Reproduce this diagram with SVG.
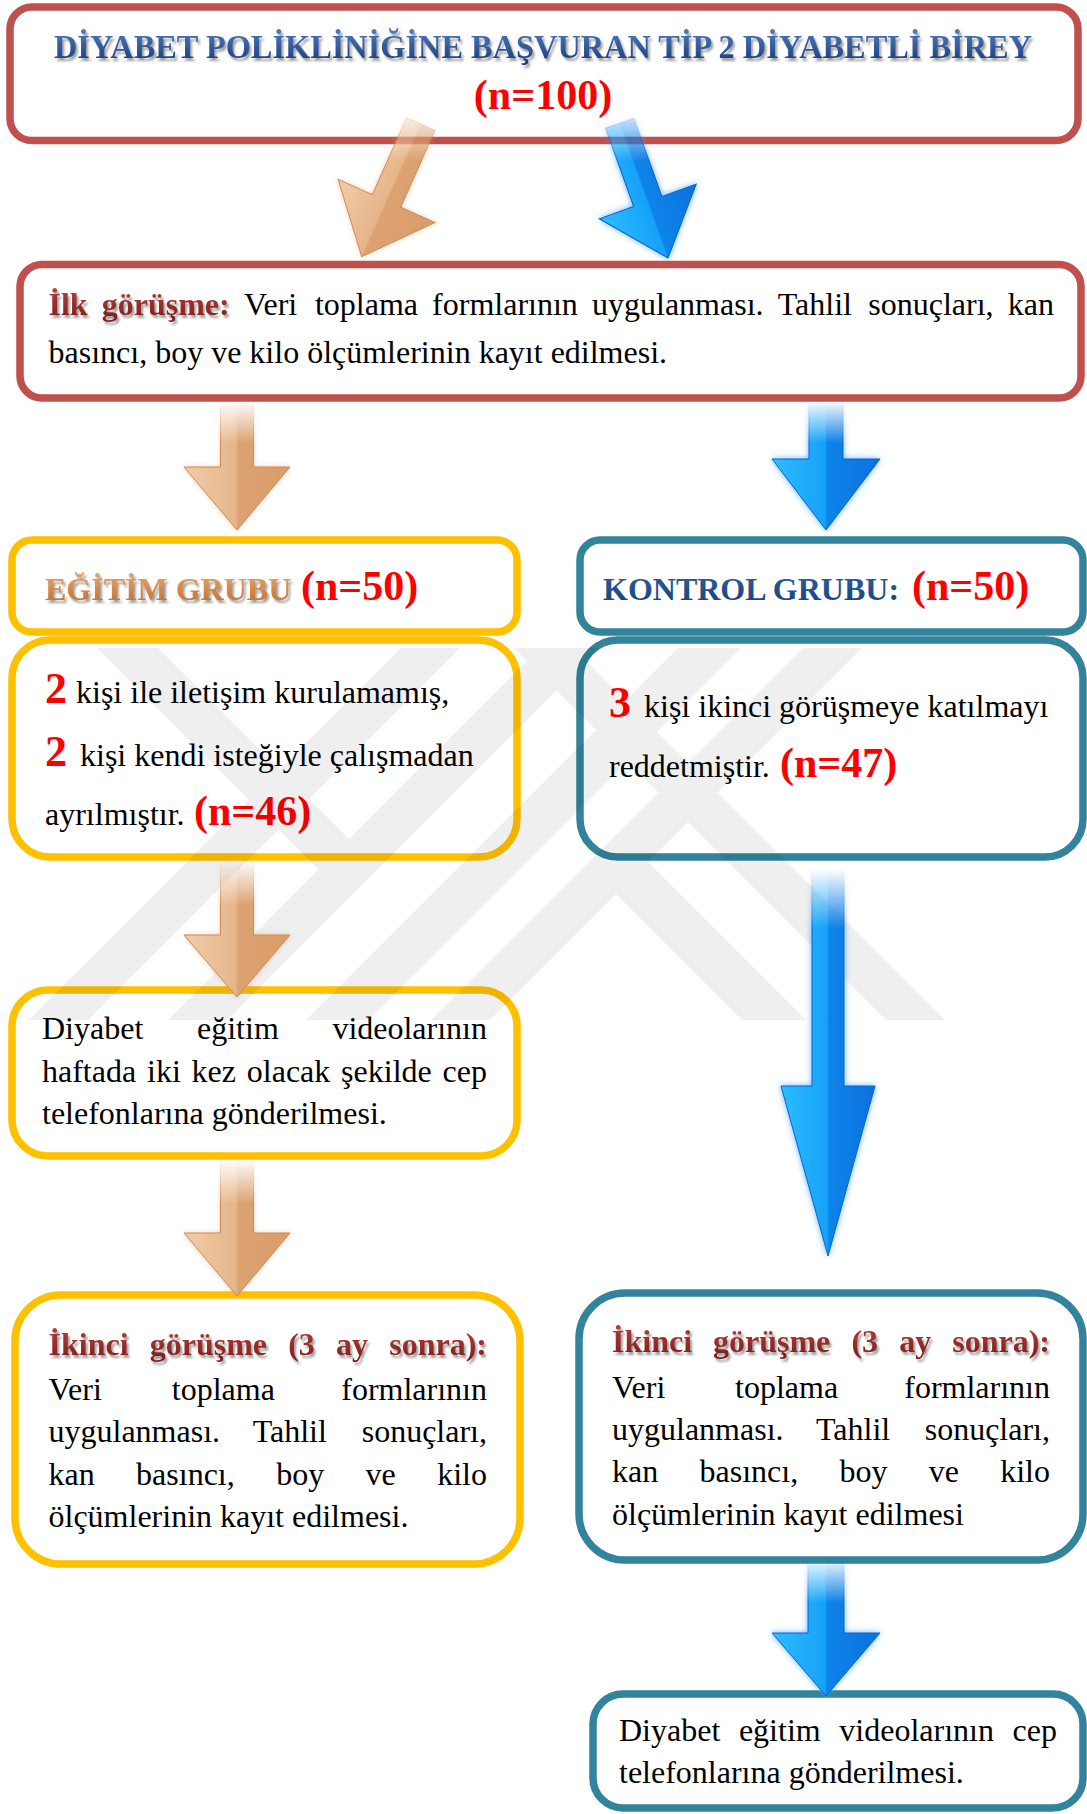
<svg xmlns="http://www.w3.org/2000/svg" width="1087" height="1814" viewBox="0 0 1087 1814">
<defs>
<style>
.box{fill:#fff;stroke-width:7.5}
.red{stroke:#C0504D}
.yel{stroke:#FFC000}
.teal{stroke:#31849B}
text{font-family:'Liberation Serif','Times New Roman',serif}
.t{font-size:32px;fill:#000}
.title{font-size:34px;font-weight:bold;fill:url(#gBlue)}
.nred{font-size:42px;font-weight:bold;fill:#FF0000}
.big{font-size:44px;font-weight:bold;fill:#FF0000}
.dred{font-size:32px;font-weight:bold;fill:url(#gRed)}
.orng{font-size:32px;font-weight:bold;fill:url(#gOrange)}
.kblue{font-size:32px;font-weight:bold;fill:url(#gKBlue)}
.tan{fill:url(#gTan);stroke:#D08A55;stroke-width:1}
.blue{fill:url(#gBlueArrow);stroke:#0A5FD0;stroke-width:1}
</style>
<linearGradient id="gBlue" x1="0" y1="0" x2="0" y2="1">
<stop offset="0" stop-color="#4F7EC2"/><stop offset="1" stop-color="#173A75"/>
</linearGradient>
<linearGradient id="gKBlue" x1="0" y1="0" x2="0" y2="1">
<stop offset="0" stop-color="#30609F"/><stop offset="1" stop-color="#173F7A"/>
</linearGradient>
<linearGradient id="gRed" x1="0" y1="0" x2="0" y2="1">
<stop offset="0" stop-color="#B8403A"/><stop offset="1" stop-color="#7C1C19"/>
</linearGradient>
<linearGradient id="gOrange" x1="0" y1="0" x2="0" y2="1">
<stop offset="0" stop-color="#E8A868"/><stop offset="1" stop-color="#BD6C2C"/>
</linearGradient>
<linearGradient id="gTan" x1="0" y1="0" x2="1" y2="0">
<stop offset="0" stop-color="#F1CDA9"/><stop offset="0.49" stop-color="#E6B58A"/><stop offset="0.51" stop-color="#DCA272"/><stop offset="1" stop-color="#D99D68"/>
</linearGradient>
<linearGradient id="gBlueArrow" x1="0" y1="0" x2="1" y2="0">
<stop offset="0" stop-color="#2FBCFF"/><stop offset="0.49" stop-color="#16A2F8"/><stop offset="0.51" stop-color="#0B84EA"/><stop offset="1" stop-color="#0A70DC"/>
</linearGradient>
<linearGradient id="fadeG" x1="0" y1="0" x2="0" y2="1">
<stop offset="0" stop-color="#000"/><stop offset="0.3" stop-color="#fff"/><stop offset="1" stop-color="#fff"/>
</linearGradient>
<linearGradient id="fadeL" x1="0" y1="0" x2="0" y2="1">
<stop offset="0" stop-color="#000"/><stop offset="0.14" stop-color="#fff"/><stop offset="1" stop-color="#fff"/>
</linearGradient>
<mask id="fade" maskContentUnits="objectBoundingBox" x="-0.3" y="-0.1" width="1.6" height="1.2">
<rect x="-0.3" y="0" width="1.6" height="1.1" fill="url(#fadeG)"/>
</mask>
<mask id="fadeLong" maskContentUnits="objectBoundingBox" x="-0.3" y="-0.1" width="1.6" height="1.2">
<rect x="-0.3" y="0" width="1.6" height="1.1" fill="url(#fadeL)"/>
</mask>
<filter id="ts" x="-5%" y="-30%" width="110%" height="170%">
<feGaussianBlur in="SourceAlpha" stdDeviation="1.3"/>
<feOffset dx="1.5" dy="2.5" result="b"/>
<feFlood flood-color="#808080" flood-opacity="0.75"/>
<feComposite in2="b" operator="in"/>
<feMerge><feMergeNode/><feMergeNode in="SourceGraphic"/></feMerge>
</filter>
<filter id="glowB" x="-30%" y="-20%" width="160%" height="140%">
<feGaussianBlur in="SourceAlpha" stdDeviation="3"/>
<feComponentTransfer result="a"><feFuncA type="linear" slope="0.8"/></feComponentTransfer>
<feFlood flood-color="#3FA4FF"/>
<feComposite in2="a" operator="in"/>
<feMerge><feMergeNode/><feMergeNode in="SourceGraphic"/></feMerge>
</filter>
<filter id="glowT" x="-30%" y="-20%" width="160%" height="140%">
<feGaussianBlur in="SourceAlpha" stdDeviation="2.5"/>
<feComponentTransfer result="a"><feFuncA type="linear" slope="0.5"/></feComponentTransfer>
<feFlood flood-color="#E0A070"/>
<feComposite in2="a" operator="in"/>
<feMerge><feMergeNode/><feMergeNode in="SourceGraphic"/></feMerge>
</filter>
</defs>
<rect width="1087" height="1814" fill="#fff"/>

<g id="nodes">
<g id="node-top">
<rect class="box red" x="10" y="7" width="1068" height="133.5" rx="22"/>
<text class="title" x="543" y="58" text-anchor="middle" textLength="978" lengthAdjust="spacingAndGlyphs" filter="url(#ts)">DİYABET POLİKLİNİĞİNE BAŞVURAN TİP 2 DİYABETLİ BİREY</text>
<text class="nred" x="543" y="109" text-anchor="middle">(n=100)</text>
</g>
<g id="node-ilk">
<rect class="box red" x="20" y="264.5" width="1061" height="133.5" rx="22"/>
<text class="dred" y="315" filter="url(#ts)"><tspan x="48.5">İlk</tspan><tspan x="101.7">görüşme:</tspan></text>
<text class="t" y="315"><tspan x="243.9">Veri</tspan><tspan x="314.9">toplama</tspan><tspan x="432.1">formlarının</tspan><tspan x="592">uygulanması.</tspan><tspan x="777.8">Tahlil</tspan><tspan x="868.3">sonuçları,</tspan></text>
<text class="t" x="1054" y="315" text-anchor="end">kan</text>
<text class="t" x="48.5" y="363">basıncı, boy ve kilo ölçümlerinin kayıt edilmesi.</text>
</g>
<g id="node-egitim-grubu">
<rect class="box yel" x="12" y="540" width="505" height="92" rx="20"/>
<text class="orng" x="45" y="600" filter="url(#ts)">EĞİTİM GRUBU</text>
<text class="nred" x="301" y="600">(n=50)</text>
</g>
<g id="node-kontrol-grubu">
<rect class="box teal" x="580" y="540" width="503" height="92" rx="20"/>
<text class="kblue" x="603" y="600">KONTROL GRUBU:</text>
<text class="nred" x="912" y="600">(n=50)</text>
</g>
<g id="node-egitim-kayip">
<rect class="box yel" x="12" y="640" width="505" height="217" rx="38"/>
<text class="big" x="45" y="703">2</text>
<text class="t" x="76" y="703">kişi ile iletişim kurulamamış,</text>
<text class="big" x="45" y="766">2</text>
<text class="t" x="80" y="766">kişi kendi isteğiyle çalışmadan</text>
<text class="t" x="45" y="825">ayrılmıştır.</text>
<text class="nred" x="194" y="825">(n=46)</text>
</g>
<g id="node-kontrol-kayip">
<rect class="box teal" x="580" y="640" width="503" height="217" rx="38"/>
<text class="big" x="609" y="717">3</text>
<text class="t" x="644" y="717">kişi ikinci görüşmeye katılmayı</text>
<text class="t" x="609" y="777">reddetmiştir.</text>
<text class="nred" x="780" y="777">(n=47)</text>
</g>
<g id="node-egitim-video">
<rect class="box yel" x="12" y="990" width="505" height="166" rx="36"/>
<text class="t" y="1039"><tspan x="42">Diyabet</tspan><tspan x="197">eğitim</tspan></text>
<text class="t" x="487" y="1039" text-anchor="end">videolarının</text>
<text class="t" y="1082"><tspan x="42">haftada</tspan><tspan x="147">iki</tspan><tspan x="191.6">kez</tspan><tspan x="246.8">olacak</tspan><tspan x="341.1">şekilde</tspan></text>
<text class="t" x="487" y="1082" text-anchor="end">cep</text>
<text class="t" x="42" y="1124">telefonlarına gönderilmesi.</text>
</g>
<g id="node-egitim-ikinci">
<rect class="box yel" x="15" y="1295" width="505" height="269" rx="46"/>
<text class="dred" y="1355" filter="url(#ts)"><tspan x="48.5">İkinci</tspan><tspan x="149.7">görüşme</tspan><tspan x="288.2">(3</tspan><tspan x="336.1">ay</tspan></text>
<text class="dred" x="487" y="1355" text-anchor="end" filter="url(#ts)">sonra):</text>
<text class="t" y="1400"><tspan x="48.5">Veri</tspan><tspan x="171.8">toplama</tspan></text>
<text class="t" x="487" y="1400" text-anchor="end">formlarının</text>
<text class="t" y="1442"><tspan x="48.5">uygulanması.</tspan><tspan x="252.7">Tahlil</tspan></text>
<text class="t" x="487" y="1442" text-anchor="end">sonuçları,</text>
<text class="t" y="1485"><tspan x="48.5">kan</tspan><tspan x="136.1">basıncı,</tspan><tspan x="276.2">boy</tspan><tspan x="365.6">ve</tspan></text>
<text class="t" x="487" y="1485" text-anchor="end">kilo</text>
<text class="t" x="48.5" y="1527">ölçümlerinin kayıt edilmesi.</text>
</g>
<g id="node-kontrol-ikinci">
<rect class="box teal" x="579" y="1293" width="504" height="267" rx="46"/>
<text class="dred" y="1352" filter="url(#ts)"><tspan x="612">İkinci</tspan><tspan x="713">görüşme</tspan><tspan x="851.4">(3</tspan><tspan x="899.2">ay</tspan></text>
<text class="dred" x="1050" y="1352" text-anchor="end" filter="url(#ts)">sonra):</text>
<text class="t" y="1398"><tspan x="612">Veri</tspan><tspan x="735">toplama</tspan></text>
<text class="t" x="1050" y="1398" text-anchor="end">formlarının</text>
<text class="t" y="1440"><tspan x="612">uygulanması.</tspan><tspan x="816">Tahlil</tspan></text>
<text class="t" x="1050" y="1440" text-anchor="end">sonuçları,</text>
<text class="t" y="1482"><tspan x="612">kan</tspan><tspan x="699.5">basıncı,</tspan><tspan x="839.5">boy</tspan><tspan x="928.8">ve</tspan></text>
<text class="t" x="1050" y="1482" text-anchor="end">kilo</text>
<text class="t" x="612" y="1525">ölçümlerinin kayıt edilmesi</text>
</g>
<g id="node-kontrol-video">
<rect class="box teal" x="593" y="1694" width="490" height="114" rx="30"/>
<text class="t" y="1741"><tspan x="619">Diyabet</tspan><tspan x="738.9">eğitim</tspan><tspan x="839.3">videolarının</tspan></text>
<text class="t" x="1057" y="1741" text-anchor="end">cep</text>
<text class="t" x="619" y="1783">telefonlarına gönderilmesi.</text>
</g>
</g>

<g id="watermark" opacity="0.06" fill="#000">
<polygon points="97,648 158,648 349,839 318.5,869.5"/>
<polygon points="401,648 460,648 88,1020 29,1020"/>
<polygon points="540,648 599,648 227,1020 168,1020"/>
<polygon points="678,648 741,648 369,1020 306,1020"/>
<polygon points="803,648 862,648 490,1020 431,1020"/>
<polygon points="618.5,832.5 806,1020 742,1020 586.5,864.5"/>
<polygon points="514,648 573,648 945,1020 886,1020"/>
</g>

<g id="connectors">
<g mask="url(#fade)" filter="url(#glowT)">
<path class="tan" transform="translate(420.7,124.2) rotate(24)" d="M-15.5,0 H15.5 V84 H53 L0,145 L-53,84 H-15.5 Z"/>
</g>
<g mask="url(#fade)" filter="url(#glowB)">
<path class="blue" transform="translate(619.8,123.3) rotate(-19.7)" d="M-15,0 H15 V83 H51.5 L0,143 L-51.5,83 H-15 Z"/>
</g>
<g mask="url(#fade)" filter="url(#glowT)">
<path class="tan" d="M220.5,400 H253.5 V467 H290 L237,530 L184,467 H220.5 Z"/>
</g>
<g mask="url(#fade)" filter="url(#glowB)">
<path class="blue" d="M809,400 H843 V459 H880 L826,530 L772,459 H809 Z"/>
</g>
<g mask="url(#fade)" filter="url(#glowT)">
<path class="tan" d="M220.5,860 H253.5 V935 H290 L237,997 L184,935 H220.5 Z"/>
</g>
<g mask="url(#fadeLong)" filter="url(#glowB)">
<path class="blue" d="M812,869 H844 V1086 H875 L828,1256 L781,1086 H812 Z"/>
</g>
<g mask="url(#fade)" filter="url(#glowT)">
<path class="tan" d="M220.5,1158 H253.5 V1233 H290 L237,1296 L184,1233 H220.5 Z"/>
</g>
<g mask="url(#fade)" filter="url(#glowB)">
<path class="blue" d="M808,1557 H844 V1633 H880 L826,1696 L772,1633 H808 Z"/>
</g>
</g>
</svg>
